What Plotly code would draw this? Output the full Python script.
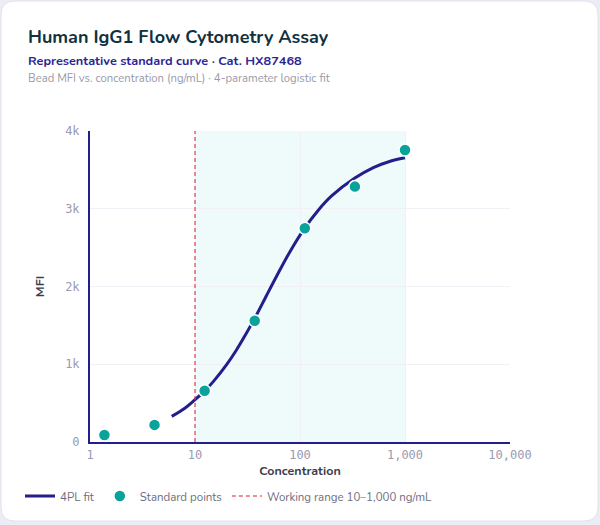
import plotly.graph_objects as go

# ---- data ----
std_conc = [1.372, 4.115, 12.35, 37.04, 111.1, 333.3, 1000]
std_mfi = [90, 220, 660, 1560, 2750, 3285, 3755]

fit_conc = [6, 8, 10, 12.3, 15, 20, 25, 30, 37, 48, 60, 80, 110, 150, 200, 333, 500, 700, 1000]
fit_mfi = [330, 435, 545, 655, 780, 995, 1190, 1370, 1590, 1885, 2135, 2445, 2745, 2985, 3165, 3395, 3530, 3605, 3655]

range_low = 10
range_high = 1000
y_ticks = [0, 1000, 2000, 3000, 4000]
x_ticks = [1, 10, 100, 1000, 10000]

W, H = 600, 525
L, R, T, B = 90, 90, 131, 83
PW, PH = W - L - R, H - T - B


def px(x):
    return (x - L) / PW


def py(y):
    return (H - B - y) / PH


def card_path(x0, y0, x1, y1, r):
    pts = [
        f"M {px(x0 + r)} {py(y0)}",
        f"L {px(x1 - r)} {py(y0)}",
        f"Q {px(x1)} {py(y0)} {px(x1)} {py(y0 + r)}",
        f"L {px(x1)} {py(y1 - r)}",
        f"Q {px(x1)} {py(y1)} {px(x1 - r)} {py(y1)}",
        f"L {px(x0 + r)} {py(y1)}",
        f"Q {px(x0)} {py(y1)} {px(x0)} {py(y1 - r)}",
        f"L {px(x0)} {py(y0 + r)}",
        f"Q {px(x0)} {py(y0)} {px(x0 + r)} {py(y0)}",
        "Z",
    ]
    return " ".join(pts)


NAVY = "#221e8c"
TEAL = "#0aa39a"
RED = "#dc3545"
FONT = "Nunito, Lato, 'Open Sans', sans-serif"
MONO = "'DejaVu Sans Mono', monospace"

fig = go.Figure()

fig.add_trace(go.Scatter(
    x=fit_conc, y=fit_mfi, mode="lines", name="4PL fit",
    line=dict(color=NAVY, width=3, shape="spline", smoothing=1.0),
    hoverinfo="skip",
))
fig.add_trace(go.Scatter(
    x=std_conc, y=std_mfi, mode="markers", name="Standard points",
    marker=dict(color=TEAL, size=12, line=dict(color="white", width=1.5)),
))
fig.add_trace(go.Scatter(
    x=[range_low, range_low], y=[y_ticks[0], y_ticks[-1]], mode="lines",
    name="Working range 10–1,000 ng/mL",
    line=dict(color=RED, width=1.5, dash="4px,3px"), opacity=0.75,
    hoverinfo="skip",
))

fig.add_shape(type="path", xref="paper", yref="paper",
              path=card_path(1, 1, 598, 521, 14),
              fillcolor="white", line=dict(color="#e2e2ec", width=1), layer="below")
fig.add_shape(type="rect", xref="x", yref="paper",
              x0=range_low, x1=range_high, y0=0, y1=1,
              fillcolor="#effafa", line=dict(width=0), layer="below")

fig.add_annotation(xref="paper", yref="paper", x=px(26), y=py(37), xanchor="left", yanchor="middle",
                   text="<b>Human IgG1 Flow Cytometry Assay</b>", showarrow=False,
                   font=dict(family=FONT, size=18, color="#10313d"))
fig.add_annotation(xref="paper", yref="paper", x=px(26), y=py(60), xanchor="left", yanchor="middle",
                   text="<b>Representative standard curve · Cat. HX87468</b>", showarrow=False,
                   font=dict(family=FONT, size=12.7, color="#2b2596"))
fig.add_annotation(xref="paper", yref="paper", x=px(26), y=py(79), xanchor="left", yanchor="middle",
                   text="Bead MFI vs. concentration (ng/mL) · 4-parameter logistic fit", showarrow=False,
                   font=dict(family=FONT, size=11.3, color="#9a9aa8"))

fig.update_layout(
    width=W, height=H,
    margin=dict(l=L, r=R, t=T, b=B),
    paper_bgcolor="#ececf4",
    plot_bgcolor="rgba(0,0,0,0)",
    font=dict(family=FONT, color="#555566"),
    showlegend=True,
    legend=dict(orientation="h", x=px(20), xanchor="left", y=py(496), yanchor="middle",
                font=dict(family=FONT, size=11.5, color="#6e6e80"), bgcolor="rgba(0,0,0,0)",
                itemwidth=30),
    xaxis=dict(
        type="log", range=[0, 4], tickvals=x_ticks, tickformat=",",
        showline=True, linecolor=NAVY, linewidth=2,
        showgrid=True, gridcolor="#f0f0f6", gridwidth=1, zeroline=False,
        ticks="", tickfont=dict(family=MONO, size=12, color="#9a9ab0"),
        ticklabelstandoff=1,
        title=dict(text="<b>Concentration</b>", font=dict(family=FONT, size=12.5, color="#3c3c4c"), standoff=4),
    ),
    yaxis=dict(
        range=[0, 4000], tickvals=y_ticks, tickformat="~s",
        showline=True, linecolor=NAVY, linewidth=2,
        showgrid=True, gridcolor="#f0f0f6", gridwidth=1, zeroline=False,
        ticks="", tickfont=dict(family=MONO, size=12, color="#9a9ab0"),
        ticklabelstandoff=6,
        title=dict(text="<b>MFI</b>", font=dict(family=FONT, size=12.5, color="#3c3c4c"), standoff=18),
    ),
)

fig.write_html("out.html", config={"displayModeBar": False},
               post_script="document.body.style.margin='0';")
